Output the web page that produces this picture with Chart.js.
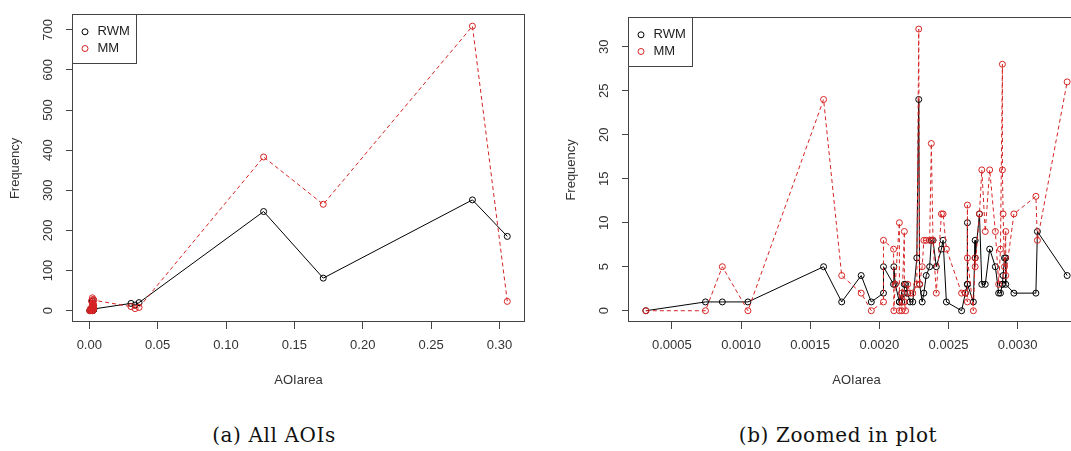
<!DOCTYPE html>
<html>
<head>
<meta charset="utf-8">
<script src="https://cdn.jsdelivr.net/npm/chart.js@4.4.1/dist/chart.umd.min.js"></script>
<style>
  html, body { margin: 0; padding: 0; background: #fff; }
  #wrap { position: relative; width: 1071px; height: 451px; overflow: hidden; }
  canvas { position: absolute; top: 0; }
  #chartA { left: 0; }
  #chartB { left: 556px; }
  .caption { position: absolute; top: 424px; line-height: 22px; font-family: "DejaVu Serif", serif;
             font-size: 20px; letter-spacing: 0.6px; color: #111; transform: translateX(-50%); white-space: nowrap; }
</style>
</head>
<body>
<div id="wrap">
  <canvas id="chartA" width="540" height="400"></canvas>
  <canvas id="chartB" width="544" height="400"></canvas>
  <div class="caption" style="left:274px">(a) All AOIs</div>
  <div class="caption" style="left:838px">(b) Zoomed in plot</div>
</div>
<script>
// small AOIs (shown in the zoomed plot)
const zoomArea = [0.000312, 0.000743, 0.000865, 0.00105, 0.001597, 0.001728, 0.001869, 0.001942, 0.00203, 0.00203,
  0.002103, 0.002105, 0.002115, 0.002145, 0.002145, 0.002162, 0.002162, 0.002181, 0.002181, 0.00219,
  0.002205, 0.002222, 0.002242, 0.002271, 0.002285, 0.002291, 0.00231, 0.002322, 0.002339, 0.002364,
  0.002376, 0.002388, 0.002412, 0.002449, 0.002461, 0.002485, 0.002595, 0.002622, 0.002637, 0.002637,
  0.002637, 0.00268, 0.002693, 0.002693, 0.002724, 0.002741, 0.002766, 0.002798, 0.002839, 0.002863,
  0.002876, 0.00289, 0.00289, 0.002895, 0.002905, 0.002914, 0.002914, 0.002973, 0.003132, 0.003143, 0.003358];
const zoomRWM = [0, 1, 1, 1, 5, 1, 4, 1, 2, 5, 3, 5, 3, 1, 1, 2, 1, 2, 3, 3, 2, 1, 1, 6, 24, 3, 1, 2, 4, 5,
  8, 8, 5, 7, 8, 1, 0, 2, 3, 10, 3, 1, 8, 6, 11, 3, 3, 7, 5, 2, 2, 3, 3, 4, 6, 6, 3, 2, 2, 9, 4];
const zoomMM = [0, 0, 5, 0, 24, 4, 2, 0, 1, 8, 7, 0, 3, 10, 0, 2, 0, 9, 1, 0, 3, 2, 2, 3, 32, 3, 5, 8, 8, 8,
  19, 8, 2, 11, 11, 7, 2, 2, 1, 12, 6, 0, 6, 5, 11, 16, 9, 16, 9, 3, 7, 28, 16, 11, 5, 9, 4, 11, 13, 8, 26];

// the bigger AOIs
const largeArea = [0.0305, 0.0335, 0.0364, 0.1275, 0.1711, 0.2802, 0.3057];
const largeRWM = [18, 14, 20, 247, 81, 276, 185];
const largeMM = [10, 5, 8, 383, 265, 709, 23];

const allArea = zoomArea.concat(largeArea);
const allRWM = zoomRWM.concat(largeRWM);
const allMM = zoomMM.concat(largeMM);

const allTicksX = [0, 0.05, 0.1, 0.15, 0.2, 0.25, 0.3];
const allTicksY = [0, 100, 200, 300, 400, 500, 600, 700];
const zoomTicksX = [0.0005, 0.001, 0.0015, 0.002, 0.0025, 0.003];
const zoomTicksY = [0, 5, 10, 15, 20, 25, 30];

const red = "rgb(214,36,36)";
const axisGrey = "#444";
const labelFont = { family: "'Liberation Sans', Arial, sans-serif", size: 13 };

// R style: 4% extension on each side of the data range
function padRange(values) {
  const lo = Math.min(...values), hi = Math.max(...values);
  const d = (hi - lo) * 0.04;
  return [lo - d, hi + d];
}

const boxPlugin = {
  id: "rbox",
  afterDraw(chart) {
    const a = chart.chartArea, ctx = chart.ctx;
    ctx.save();
    ctx.strokeStyle = axisGrey;
    ctx.lineWidth = 1;
    ctx.strokeRect(Math.round(a.left) - 0.5, Math.round(a.top) - 0.5,
      Math.round(a.right - a.left) + 1, Math.round(a.bottom - a.top));
    ctx.restore();
  }
};

const boxLegend = {
  id: "boxLegend",
  afterDraw(chart) {
    const a = chart.chartArea, ctx = chart.ctx;
    const left = Math.round(a.left) - 0.5, top = Math.round(a.top) - 0.5;
    ctx.save();
    ctx.fillStyle = "#fff";
    ctx.fillRect(left, top, 64, 49);
    ctx.strokeStyle = axisGrey;
    ctx.lineWidth = 1;
    ctx.strokeRect(left, top, 64, 49);
    ctx.font = "13px 'Liberation Sans', Arial, sans-serif";
    ctx.textBaseline = "middle";
    chart.data.datasets.forEach((ds, i) => {
      const y = a.top + 17 + i * 16.7;
      ctx.strokeStyle = ds.borderColor;
      ctx.beginPath();
      ctx.arc(a.left + 12, y, 3, 0, Math.PI * 2);
      ctx.stroke();
      ctx.fillStyle = "#222";
      ctx.fillText(ds.label, a.left + 24.5, y);
    });
    ctx.restore();
  }
};

function makeChart(id, xs, rwm, mm, xTicks, yTicks, xDigits, yPad) {
  const [xmin, xmax] = padRange(xs);
  const [ymin, ymax] = padRange(rwm.concat(mm));
  const toPts = ys => xs.map((x, i) => ({ x: x, y: ys[i] }));
  const tickGrid = { display: true, drawOnChartArea: false, drawTicks: true, tickLength: 7, color: axisGrey };

  return new Chart(document.getElementById(id).getContext("2d"), {
    type: "scatter",
    data: {
      datasets: [
        { label: "RWM", data: toPts(rwm), showLine: true, borderColor: "#000", borderWidth: 1,
          backgroundColor: "rgba(0,0,0,0)", pointRadius: 3, pointBorderWidth: 1,
          pointBorderColor: "#000", pointBackgroundColor: "rgba(0,0,0,0)", order: 1 },
        { label: "MM", data: toPts(mm), showLine: true, borderColor: red, borderWidth: 1, borderDash: [4, 3],
          backgroundColor: "rgba(0,0,0,0)", pointRadius: 3, pointBorderWidth: 1,
          pointBorderColor: red, pointBackgroundColor: "rgba(0,0,0,0)", order: 0 }
      ]
    },
    options: {
      responsive: false,
      animation: false,
      devicePixelRatio: 1,
      events: [],
      layout: { padding: { left: 0, top: 7, right: 16, bottom: 0 } },
      plugins: { legend: { display: false }, tooltip: { enabled: false } },
      scales: {
        x: {
          type: "linear", min: xmin, max: xmax,
          afterBuildTicks: s => { s.ticks = xTicks.map(v => ({ value: v })); },
          afterFit: s => { s.height = 78; },
          grid: tickGrid,
          border: { display: false },
          ticks: { font: labelFont, color: "#333", padding: 9, autoSkip: false, maxRotation: 0,
                   callback: v => Number(v).toFixed(xDigits) },
          title: { display: true, text: "AOIarea", font: labelFont, color: "#333", padding: { top: 0, bottom: 12 } }
        },
        y: {
          type: "linear", min: ymin, max: ymax,
          afterBuildTicks: s => { s.ticks = yTicks.map(v => ({ value: v })); },
          afterFit: s => { s.width = 73; },
          grid: tickGrid,
          border: { display: false },
          ticks: { font: labelFont, color: "#333", padding: yPad, autoSkip: false,
                   minRotation: 90, maxRotation: 90, crossAlign: "center",
                   callback: v => String(v) },
          title: { display: true, text: "Frequency", font: labelFont, color: "#333", padding: { top: 8, bottom: 0 } }
        }
      }
    },
    plugins: [boxPlugin, boxLegend]
  });
}

makeChart("chartA", allArea, allRWM, allMM, allTicksX, allTicksY, 2, 7);
makeChart("chartB", zoomArea, zoomRWM, zoomMM, zoomTicksX, zoomTicksY, 4, 10);
</script>
</body>
</html>
